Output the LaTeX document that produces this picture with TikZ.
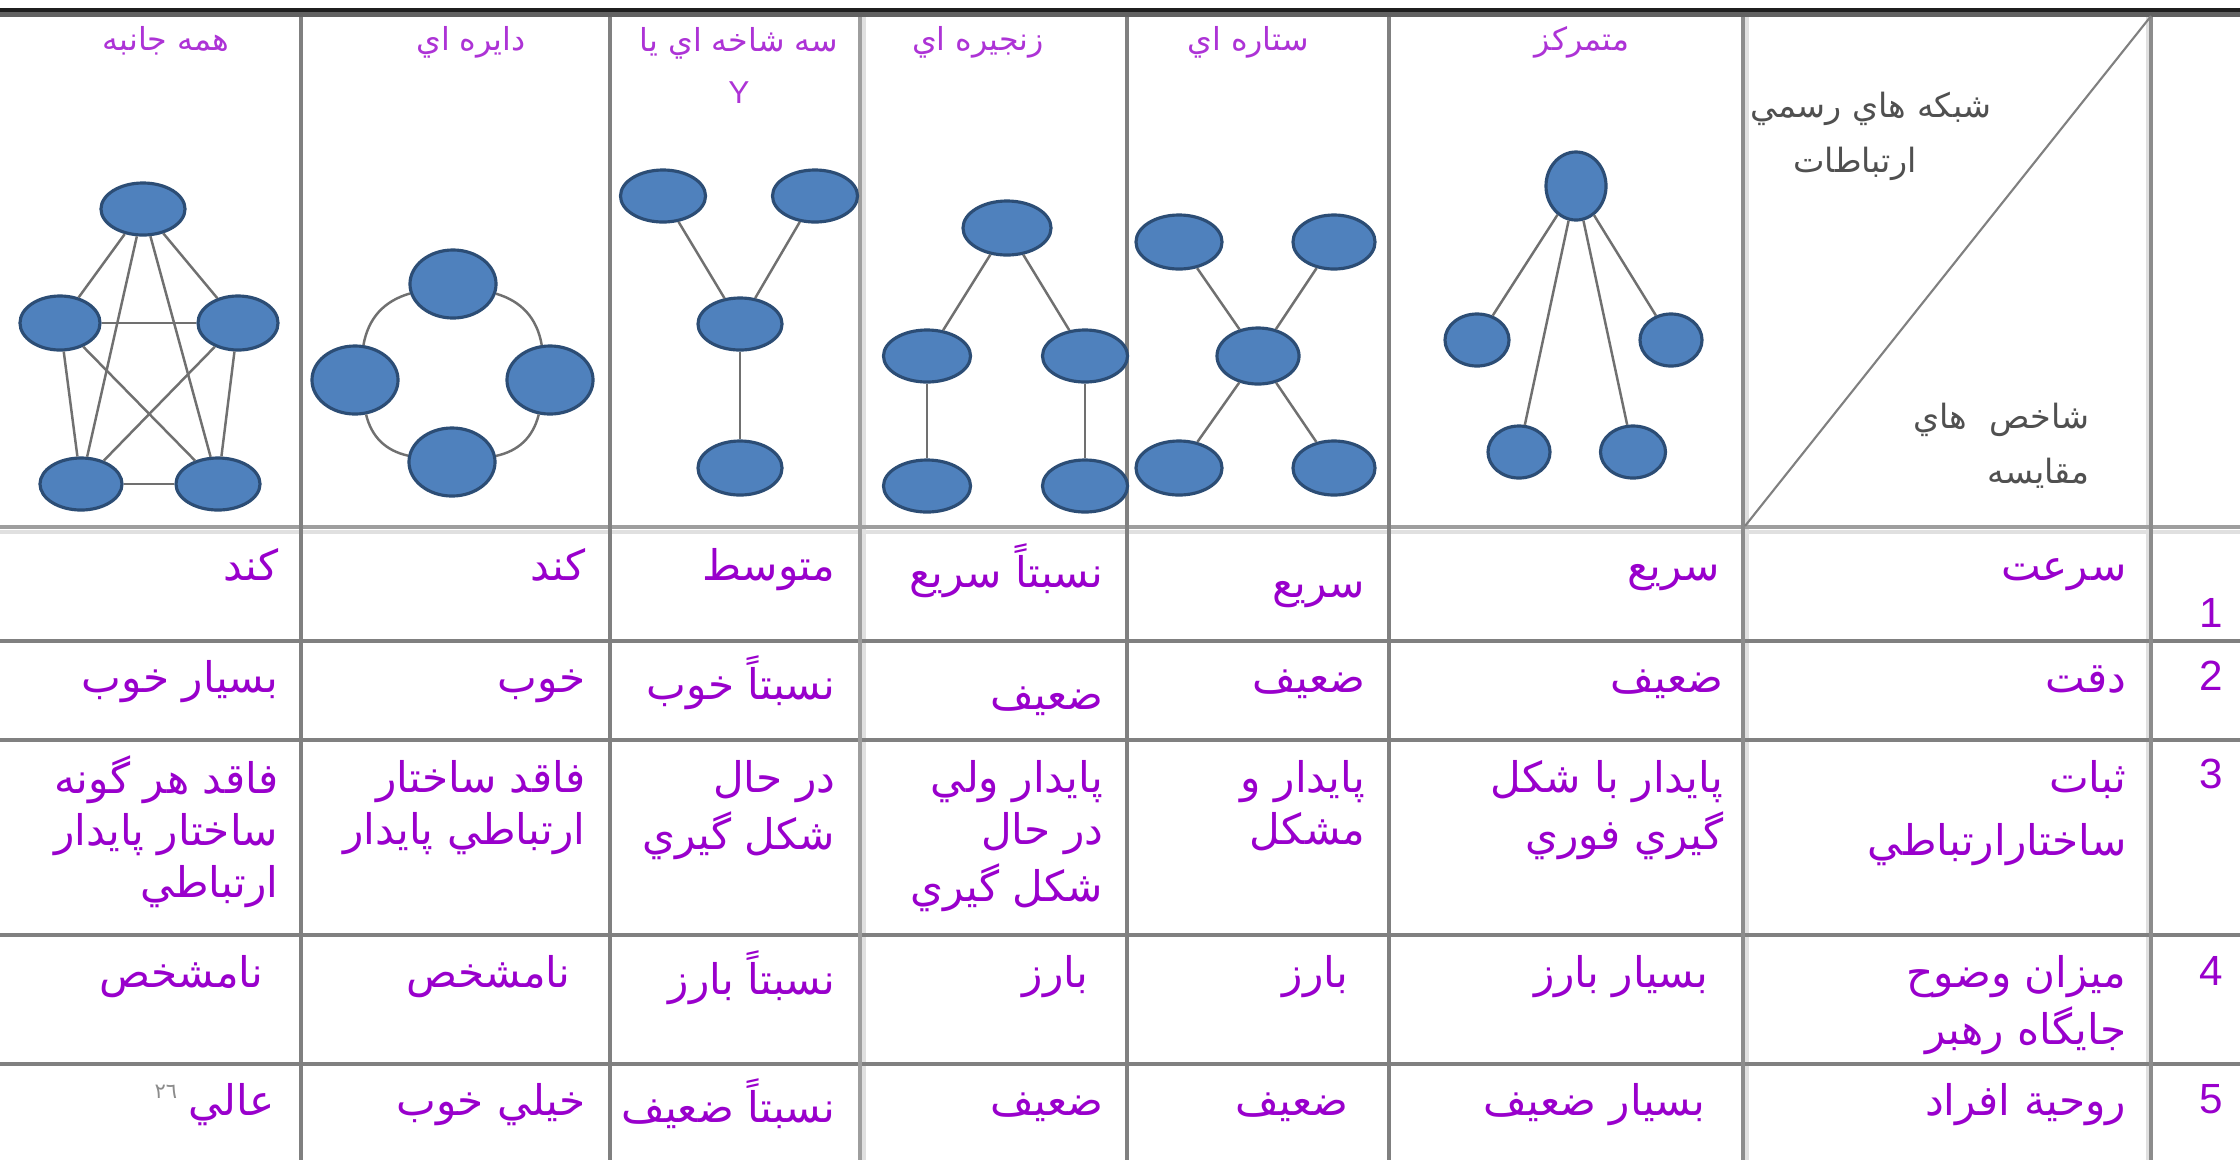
\documentclass[tikz,border=0pt]{standalone}
\usepackage{fontspec}
\usetikzlibrary{shapes.geometric}
\newfontfamily\arabicfont[Script=Arabic]{DejaVu Sans}
\newfontfamily\latinfont{Liberation Sans}
\TeXXeTstate=1
\newcommand{\fa}[1]{\strut\beginR #1\endR}
\definecolor{pur}{RGB}{153,0,204}
\definecolor{nodefill}{HTML}{4F81BD}
\definecolor{nodeedge}{HTML}{2C4D75}
\definecolor{gridc}{HTML}{808080}
\definecolor{edgec}{HTML}{707070}
\definecolor{diagc}{HTML}{505050}
\begin{document}
\begin{tikzpicture}[x=0.01cm,y=-0.01cm,
  tabline/.style={draw=gridc, line width=0.04cm},
  vtx/.style={ellipse, fill=nodefill, draw=nodeedge, line width=0.9pt, inner sep=0pt, minimum width=0.84cm, minimum height=0.52cm},
  link/.style={draw=edgec, line width=0.7pt},
  celltxt/.style={anchor=north east, inner sep=0pt, font=\arabicfont\fontsize{12}{14.8}\selectfont, text=pur, align=right},
  hdr/.style={anchor=base, inner sep=0pt, font=\arabicfont\fontsize{9}{14.8}\selectfont, text=pur!80, align=center},
  diagtxt/.style={inner sep=0pt, font=\arabicfont\fontsize{9.5}{15.5}\selectfont, text=diagc},
  rownum/.style={anchor=base, inner sep=0pt, font=\latinfont\fontsize{12}{14}\selectfont, text=pur}]
\useasboundingbox (0,0) rectangle (2240,1160);
\fill[white] (0,0) rectangle (2240,1160);
% top band
\fill[black!88] (0,8) rectangle (2240,12);
\fill[black!62] (0,12) rectangle (2240,17);
% light companion lines
\fill[black!12] (862,17) rectangle (866,1160);
\fill[black!12] (1745,17) rectangle (1749,1160);
\fill[black!12] (2146,17) rectangle (2149,1160);
\fill[black!12] (0,530) rectangle (2240,534);
% horizontal lines
\draw[tabline, draw=black!38] (0,527) -- (2240,527);
\foreach \yy in {641,740,935,1064} \draw[tabline] (0,\yy) -- (2240,\yy);
% vertical lines
\foreach \xx in {301,610,1127,1389} \draw[tabline] (\xx,17) -- (\xx,1160);
\draw[tabline, draw=black!38] (860,17) -- (860,1160);
\draw[tabline, draw=black!45] (1743,17) -- (1743,1160);
\draw[tabline, draw=black!45] (2151,17) -- (2151,1160);
% diagonal
\coordinate (dA) at (1745,526);
\coordinate (dB) at (2151,16);
\draw[draw=black!50, line width=0.6pt] (dA) -- (dB);

% header texts
\node[hdr] (h1) at (166,50) {\fa{همه جانبه}};
\node[hdr] (h2) at (471,50) {\fa{دايره اي}};
\node[hdr, anchor=north] (h3) at (739,14) {\fa{سه شاخه اي يا}\\\strut{\latinfont Y}};
\node[hdr] (h4) at (978,50) {\fa{زنجيره اي}};
\node[hdr] (h5) at (1248,50) {\fa{ستاره اي}};
\node[hdr] (h6) at (1582,50) {\fa{متمرکز}};
% diagonal cell texts
\node[diagtxt, anchor=base] (dg1) at (1871,117) {\fa{شبکه هاي رسمي}};
\node[diagtxt, anchor=base] (dg2) at (1855,172) {\fa{ارتباطات}};
\node[diagtxt, anchor=base east] (dg3) at (2090,428) {\fa{شاخص\hspace{0.22cm}هاي}};
\node[diagtxt, anchor=base east] (dg4) at (2090,483) {\fa{مقايسه}};

% column 1: all channel
\node[vtx] (a1) at (143,209) {};
\node[vtx, minimum width=0.8cm, minimum height=0.54cm] (a2) at (60,323) {};
\node[vtx, minimum width=0.8cm, minimum height=0.54cm] (a3) at (238,323) {};
\node[vtx, minimum width=0.82cm] (a4) at (81,484) {};
\node[vtx] (a5) at (218,484) {};
\draw[link] (a1) -- (a2); \draw[link] (a1) -- (a3); \draw[link] (a1) -- (a4); \draw[link] (a1) -- (a5);
\draw[link] (a2) -- (a3); \draw[link] (a2) -- (a4); \draw[link] (a2) -- (a5);
\draw[link] (a3) -- (a4); \draw[link] (a3) -- (a5); \draw[link] (a4) -- (a5);
% column 2: circle
\node[vtx, minimum width=0.86cm, minimum height=0.68cm] (b1) at (453,284) {};
\node[vtx, minimum width=0.86cm, minimum height=0.68cm] (b2) at (550,380) {};
\node[vtx, minimum width=0.86cm, minimum height=0.68cm] (b3) at (452,462) {};
\node[vtx, minimum width=0.86cm, minimum height=0.68cm] (b4) at (355,380) {};
\draw[link] (b1) to[bend left=32] (b2);
\draw[link] (b2) to[bend left=32] (b3);
\draw[link] (b3) to[bend left=32] (b4);
\draw[link] (b4) to[bend left=32] (b1);
% column 3: Y
\node[vtx, minimum width=0.85cm] (y1) at (663,196) {};
\node[vtx, minimum width=0.85cm] (y2) at (815,196) {};
\node[vtx] (y3) at (740,324) {};
\node[vtx, minimum height=0.54cm] (y4) at (740,468) {};
\draw[link] (y1) -- (y3); \draw[link] (y2) -- (y3); \draw[link] (y3) -- (y4);
% column 4: chain
\node[vtx, minimum width=0.88cm, minimum height=0.54cm] (k1) at (1007,228) {};
\node[vtx, minimum width=0.87cm] (k2) at (927,356) {};
\node[vtx, minimum width=0.85cm] (k3) at (1085,356) {};
\node[vtx, minimum width=0.87cm] (k4) at (927,486) {};
\node[vtx, minimum width=0.85cm] (k5) at (1085,486) {};
\draw[link] (k1) -- (k2); \draw[link] (k1) -- (k3); \draw[link] (k2) -- (k4); \draw[link] (k3) -- (k5);
% column 5: star
\node[vtx, minimum width=0.86cm, minimum height=0.54cm] (s1) at (1179,242) {};
\node[vtx, minimum width=0.82cm, minimum height=0.54cm] (s2) at (1334,242) {};
\node[vtx, minimum width=0.82cm, minimum height=0.56cm] (s3) at (1258,356) {};
\node[vtx, minimum width=0.86cm, minimum height=0.54cm] (s4) at (1179,468) {};
\node[vtx, minimum width=0.82cm, minimum height=0.54cm] (s5) at (1334,468) {};
\draw[link] (s1) -- (s3); \draw[link] (s2) -- (s3); \draw[link] (s3) -- (s4); \draw[link] (s3) -- (s5);
% column 6: wheel (centralized)
\node[vtx, minimum width=0.6cm, minimum height=0.68cm] (w1) at (1576,186) {};
\node[vtx, minimum width=0.64cm, minimum height=0.52cm] (w2) at (1477,340) {};
\node[vtx, minimum width=0.62cm, minimum height=0.52cm] (w3) at (1671,340) {};
\node[vtx, minimum width=0.62cm, minimum height=0.52cm] (w4) at (1519,452) {};
\node[vtx, minimum width=0.65cm, minimum height=0.52cm] (w5) at (1633,452) {};
\draw[link] (w1) -- (w2); \draw[link] (w1) -- (w3); \draw[link] (w1) -- (w4); \draw[link] (w1) -- (w5);

% row 1
\node[celltxt] (r1c1) at (279,543) {\fa{کند}};
\node[celltxt] (r1c2) at (586,543) {\fa{کند}};
\node[celltxt] (r1c3) at (836,543) {\fa{متوسط}};
\node[celltxt] (r1c4) at (1104,543) {\fa{نسبتاً سريع}};
\node[celltxt] (r1c5) at (1366,560) {\fa{سريع}};
\node[celltxt] (r1c6) at (1721,543) {\fa{سريع}};
\node[celltxt] (r1h) at (2127,543) {\fa{سرعت}};
\node[rownum] (n1) at (2211,627) {1};
% row 2
\node[celltxt] (r2c1) at (279,655) {\fa{بسيار خوب}};
\node[celltxt] (r2c2) at (586,655) {\fa{خوب}};
\node[celltxt] (r2c3) at (836,655) {\fa{نسبتاً خوب}};
\node[celltxt] (r2c4) at (1104,672) {\fa{ضعيف}};
\node[celltxt] (r2c5) at (1366,655) {\fa{ضعيف}};
\node[celltxt] (r2c6) at (1724,655) {\fa{ضعيف}};
\node[celltxt] (r2h) at (2127,655) {\fa{دقت}};
\node[rownum] (n2) at (2211,690) {2};
% row 3
\node[celltxt] (r3c1) at (279,755) {\fa{فاقد هر گونه}\\\fa{ساختار پايدار}\\\fa{ارتباطي}};
\node[celltxt] (r3c2) at (586,755) {\fa{فاقد ساختار}\\\fa{ارتباطي پايدار}};
\node[celltxt] (r3c3) at (836,755) {\fa{در حال}\\\fa{شکل گيري}};
\node[celltxt] (r3c4) at (1104,755) {\fa{پايدار ولي}\\\fa{در حال}\\\fa{شکل گيري}};
\node[celltxt] (r3c5) at (1366,755) {\fa{پايدار و}\\\fa{مشکل}};
\node[celltxt] (r3c6) at (1724,755) {\fa{پايدار با شکل}\\\fa{گيري فوري}};
\node[celltxt] (r3h) at (2127,755) {\fa{ثبات}\\[0.11cm]\fa{ساختارارتباطي}};
\node[rownum] (n3) at (2211,788) {3};
% row 4
\node[celltxt] (r4c1) at (264,950) {\fa{نامشخص}};
\node[celltxt] (r4c2) at (571,950) {\fa{نامشخص}};
\node[celltxt] (r4c3) at (836,950) {\fa{نسبتاً  بارز}};
\node[celltxt] (r4c4) at (1089,950) {\fa{بارز}};
\node[celltxt] (r4c5) at (1349,950) {\fa{بارز}};
\node[celltxt] (r4c6) at (1709,950) {\fa{بسيار بارز}};
\node[celltxt] (r4h) at (2127,950) {\fa{ميزان وضوح}\\\fa{جايگاه رهبر}};
\node[rownum] (n4) at (2211,985) {4};
% row 5
\node[celltxt] (r5c1) at (275,1078) {\fa{عالي}};
\node[anchor=base east, inner sep=0pt, font=\arabicfont\fontsize{6}{7}\selectfont, text=black!45] (fn) at (178,1098) {\beginL ٢٦\endL};
\node[celltxt] (r5c2) at (586,1078) {\fa{خيلي خوب}};
\node[celltxt] (r5c3) at (836,1078) {\fa{نسبتاً ضعيف}};
\node[celltxt] (r5c4) at (1104,1078) {\fa{ضعيف}};
\node[celltxt] (r5c5) at (1349,1078) {\fa{ضعيف}};
\node[celltxt] (r5c6) at (1706,1078) {\fa{بسيار ضعيف}};
\node[celltxt] (r5h) at (2127,1078) {\fa{روحية افراد}};
\node[rownum] (n5) at (2211,1113) {5};
\end{tikzpicture}
\end{document}
